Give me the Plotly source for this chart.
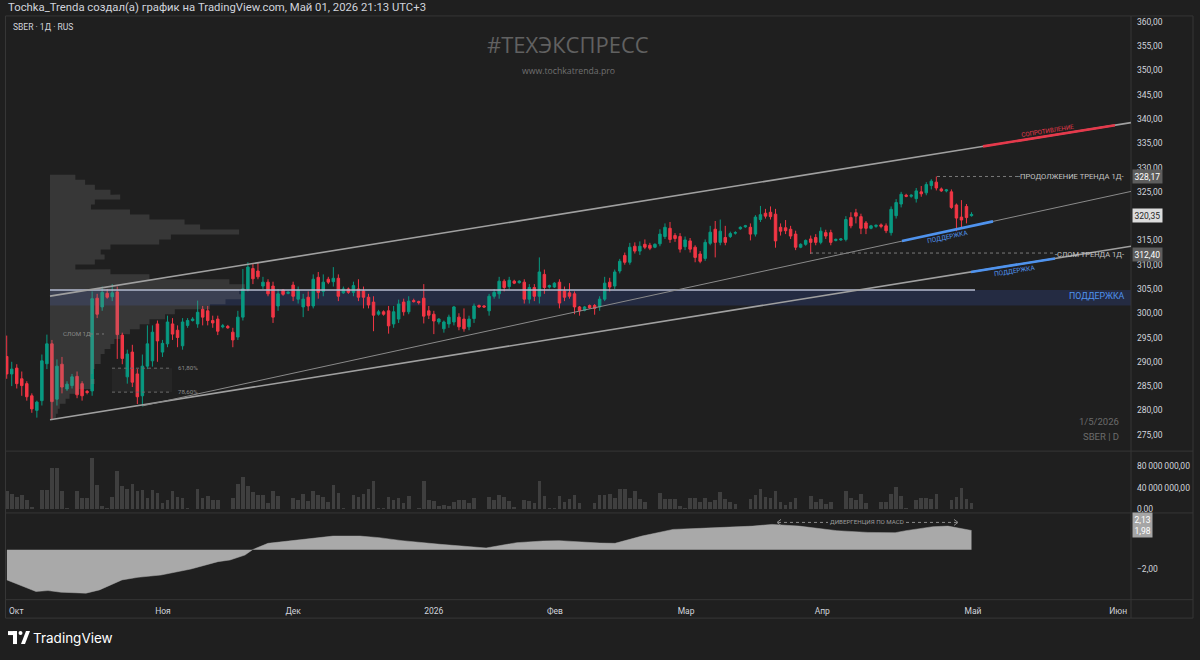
import plotly.graph_objects as go

# ------------------------------------------------------------------ data
month_ticks = [1.9, 31.1, 57.0, 85.0, 109.1, 135.2, 162.3, 192.3, 221.2]
month_labels = ["Окт", "Ноя", "Дек", "2026", "Фев", "Мар", "Апр", "Май", "Июн"]

ohlc = [
    (291.1, 295.4, 286.5, 287.5), (287.5, 290.0, 285.0, 288.5), (288.7, 289.5, 284.5, 285.5),
    (286.5, 288.0, 283.0, 285.1), (285.5, 286.0, 282.0, 282.8), (283.0, 283.5, 279.5, 280.3),
    (280.0, 282.0, 278.5, 281.7), (282.0, 291.5, 281.0, 290.2), (289.6, 295.6, 288.5, 293.7),
    (293.7, 294.5, 278.2, 281.8), (282.3, 290.5, 281.0, 289.1), (289.5, 291.0, 283.5, 284.8),
    (284.4, 286.0, 284.0, 285.4), (285.1, 287.5, 284.5, 286.9), (287.0, 288.0, 282.5, 283.2),
    (285.5, 286.0, 282.0, 283.0), (283.9, 284.2, 283.3, 283.7), (284.0, 304.5, 283.0, 303.0),
    (303.1, 304.0, 299.0, 299.8), (301.3, 305.5, 300.5, 304.3), (304.1, 305.0, 303.0, 303.3),
    (303.4, 306.0, 302.5, 304.2), (304.4, 305.5, 290.6, 295.6), (295.5, 296.0, 289.5, 290.7),
    (286.9, 292.5, 285.5, 291.6), (292.0, 293.5, 284.8, 285.8), (287.5, 288.5, 281.3, 282.8),
    (283.0, 291.5, 280.8, 289.1), (289.1, 297.5, 288.5, 293.7), (290.2, 297.5, 289.0, 296.1),
    (297.8, 298.5, 290.0, 294.3), (292.0, 294.5, 291.0, 293.8), (293.7, 299.5, 293.0, 298.2),
    (297.8, 299.0, 294.5, 295.7), (296.5, 297.5, 293.0, 295.0), (293.3, 299.0, 292.5, 298.2),
    (297.5, 299.0, 297.0, 298.5), (298.5, 299.2, 298.3, 298.8), (297.8, 302.6, 297.0, 300.2),
    (300.8, 301.5, 297.5, 299.2), (300.5, 301.5, 297.5, 298.5), (298.5, 299.5, 297.0, 298.0),
    (298.8, 299.5, 295.5, 296.3), (297.2, 297.8, 296.9, 297.4), (297.3, 297.6, 296.8, 297.0),
    (296.1, 297.0, 293.0, 294.5), (295.1, 300.5, 294.5, 299.2), (299.2, 309.1, 298.5, 305.0),
    (305.0, 310.5, 304.5, 309.5), (309.2, 310.3, 306.0, 307.1), (308.7, 310.5, 307.0, 307.5),
    (305.6, 307.5, 305.0, 306.4), (306.4, 307.0, 303.5, 304.0), (305.6, 306.5, 298.0, 299.2),
    (301.5, 305.0, 300.5, 304.0), (304.8, 305.0, 303.6, 303.9), (304.1, 304.6, 303.9, 304.3),
    (305.8, 306.5, 302.5, 303.5), (302.9, 305.5, 302.0, 304.8), (301.3, 304.0, 299.2, 302.9),
    (303.3, 304.5, 300.5, 301.5), (301.5, 308.0, 301.0, 307.0), (307.4, 308.5, 303.0, 304.3),
    (304.5, 308.0, 303.5, 306.4), (307.0, 307.5, 306.0, 306.4), (306.5, 309.5, 305.5, 307.2),
    (307.2, 308.0, 302.5, 303.5), (304.2, 305.5, 304.0, 305.0), (305.0, 305.3, 304.0, 304.3),
    (304.3, 306.5, 303.5, 305.7), (305.0, 307.0, 302.5, 303.3), (304.6, 305.5, 301.0, 303.3),
    (303.3, 304.0, 301.0, 301.7), (302.3, 303.5, 296.3, 299.6), (299.8, 300.7, 299.5, 300.3),
    (300.3, 300.6, 299.5, 299.8), (300.5, 301.5, 295.8, 297.4), (297.8, 301.5, 297.0, 300.3),
    (298.8, 302.8, 298.0, 301.9), (302.3, 303.0, 299.5, 300.3), (300.3, 303.5, 299.8, 302.5),
    (302.6, 303.0, 302.2, 302.4), (302.4, 302.6, 301.8, 302.2), (303.1, 306.0, 297.9, 299.4),
    (300.5, 301.5, 298.8, 299.6), (299.8, 300.5, 295.7, 298.4), (298.2, 299.0, 297.7, 298.8),
    (296.8, 298.5, 296.0, 298.2), (297.8, 299.7, 297.0, 299.2), (298.2, 301.5, 297.5, 301.3),
    (299.2, 300.0, 296.5, 297.2), (298.8, 301.0, 296.2, 296.8), (297.2, 299.5, 296.5, 298.8),
    (298.9, 302.0, 298.0, 301.5), (301.6, 301.8, 301.1, 301.3), (301.5, 301.7, 301.1, 301.3),
    (300.5, 304.0, 299.5, 303.5), (303.5, 305.0, 303.0, 304.3), (304.0, 307.5, 303.0, 306.6),
    (306.6, 307.0, 304.5, 305.3), (305.5, 307.5, 305.0, 306.8), (306.6, 306.9, 306.0, 306.2),
    (306.3, 306.8, 306.1, 306.6), (306.4, 307.0, 302.0, 302.9), (302.9, 306.0, 302.0, 305.3),
    (305.3, 306.0, 302.5, 303.5), (303.5, 311.5, 302.0, 308.5), (308.0, 309.0, 304.0, 305.3),
    (305.4, 305.9, 305.1, 305.7), (305.4, 306.4, 305.2, 306.2), (306.4, 307.0, 301.0, 302.1),
    (304.6, 305.5, 302.5, 303.3), (304.2, 306.2, 303.0, 303.5), (304.0, 304.5, 299.8, 301.3),
    (301.3, 301.5, 299.5, 300.5), (300.6, 301.5, 300.4, 301.3), (301.6, 301.8, 300.9, 301.1),
    (301.6, 301.9, 299.7, 301.0), (301.3, 303.5, 300.5, 302.9), (302.9, 307.5, 302.5, 306.2),
    (306.4, 307.3, 304.5, 305.4), (305.6, 309.0, 305.0, 308.5), (308.7, 311.2, 308.2, 310.7),
    (311.9, 312.5, 310.0, 310.5), (310.5, 314.5, 310.0, 313.6), (313.8, 314.6, 312.3, 312.8),
    (312.8, 314.8, 312.0, 313.8), (314.2, 315.2, 313.2, 313.6), (314.0, 314.5, 313.0, 313.4),
    (313.6, 314.4, 313.4, 314.2), (314.3, 317.3, 313.8, 316.3), (315.8, 318.5, 315.3, 317.7),
    (317.5, 318.8, 314.5, 315.2), (316.0, 316.5, 314.7, 315.4), (315.8, 316.5, 312.5, 313.2),
    (313.7, 315.8, 313.0, 315.1), (314.9, 315.5, 312.5, 313.2), (313.6, 314.0, 310.5, 311.5),
    (312.2, 312.8, 310.3, 310.7), (311.3, 315.2, 310.8, 314.6), (314.4, 318.0, 314.0, 316.7),
    (317.3, 319.0, 311.5, 314.6), (314.6, 319.3, 314.0, 316.9), (315.6, 318.0, 314.0, 314.6),
    (315.8, 316.8, 315.5, 316.4), (316.5, 316.9, 316.2, 316.6), (317.4, 317.9, 317.2, 317.7),
    (317.8, 318.2, 317.6, 318.0), (317.7, 318.5, 315.0, 316.3), (316.3, 320.2, 315.8, 319.8),
    (319.3, 322.1, 318.8, 320.3), (320.6, 321.5, 319.5, 320.0), (320.8, 322.0, 319.3, 319.9),
    (320.4, 321.5, 313.5, 314.9), (317.7, 318.5, 316.0, 316.9), (317.6, 319.2, 316.3, 317.0),
    (317.3, 318.0, 315.3, 315.9), (316.3, 317.0, 313.0, 313.6), (313.6, 314.4, 313.4, 314.2),
    (314.2, 315.2, 313.9, 315.0), (315.3, 316.0, 312.2, 314.6), (315.6, 316.3, 314.0, 314.6),
    (314.6, 317.7, 314.2, 316.9), (316.6, 317.2, 315.3, 315.9), (316.6, 317.2, 314.0, 314.6),
    (315.0, 315.4, 314.8, 315.2), (315.1, 315.5, 314.9, 315.3), (315.2, 320.0, 314.8, 319.3),
    (319.7, 320.8, 317.5, 318.0), (320.7, 321.5, 318.5, 320.0), (319.9, 320.5, 316.3, 317.5),
    (318.6, 319.0, 316.3, 317.5), (317.5, 318.2, 317.3, 318.0), (317.9, 318.3, 317.6, 318.1),
    (318.2, 318.5, 317.5, 317.9), (318.0, 318.5, 316.5, 317.0), (316.6, 322.0, 316.0, 321.4),
    (320.1, 323.5, 319.5, 322.8), (322.5, 325.0, 321.8, 324.5), (324.3, 324.6, 323.9, 324.1),
    (324.1, 324.5, 323.8, 324.3), (323.6, 325.8, 322.8, 325.2), (325.0, 326.2, 324.0, 324.6),
    (324.8, 327.0, 324.3, 326.5), (326.3, 327.6, 325.5, 327.2), (327.0, 328.17, 325.3, 325.8),
    (325.6, 325.9, 325.0, 325.2), (325.2, 325.6, 324.9, 325.4), (325.0, 325.5, 321.5, 321.8),
    (322.3, 322.6, 316.9, 319.6), (319.8, 323.3, 317.4, 319.2), (322.0, 322.5, 318.5, 319.7),
    (320.1, 320.8, 319.9, 320.35),
]
opens = [r[0] for r in ohlc]
highs = [r[1] for r in ohlc]
lows = [r[2] for r in ohlc]
closes = [r[3] for r in ohlc]
bar_idx = list(range(len(ohlc)))

volume_m = [
    34, 28, 22, 27, 17, 4, 1, 35, 36, 75, 75, 33, 2, 1, 33, 21, 21, 93, 45, 6,
    3, 23, 70, 42, 37, 47, 33, 36, 21, 36, 30, 11, 17, 33, 23, 21, 2, 0.5, 37, 21,
    24, 17, 18, 0.5, 0.5, 21, 46, 59, 42, 32, 26, 27, 12, 34, 25, 1, 1, 20, 18, 28,
    16, 33, 27, 22, 14, 44, 30, 2, 1, 27, 23, 29, 37, 51, 2, 3, 22, 17, 20, 12,
    24, 1, 2, 51, 18, 15, 7, 9, 6, 14, 17, 17, 12, 20, 1, 1, 23, 17, 26, 22,
    16, 4, 1, 18, 15, 11, 52, 24, 2, 2, 25, 14, 19, 27, 11, 1, 1, 11, 27,
    26.1, 29.1, 21.8, 37.0, 37.6, 20.0, 33.9, 18.2, 13.3, 0.5,
    0.5, 30.3, 18.2, 18.2, 19.4, 6.1, 3.0, 20.6, 20.6, 13.3,
    20.6, 13.3, 16.4, 32.7, 18.2, 13.3, 9.7, 0.6, 0.6, 18.2,
    25.5, 38.2, 23.0, 20.0, 33.9, 13.9, 7.9, 13.3, 21.8, 0.6,
    0.6, 24.2, 13.3, 18.2, 9.1, 13.3, 0.6, 0.5, 33.9, 21.8,
    16.4, 28.5, 12.1, 0.6, 0.6, 13.3, 13.3, 27.9, 40.6, 24.2,
    2.4, 0.6, 17.0, 21.8, 21.8, 18.2, 27.3, 0.6, 0.6, 17.0,
    23.0, 40.0, 18.2, 10.9,
]

macd_idx = [0.04, 2.45, 5.83, 8.22, 10.8, 15.78, 18.47, 22.94, 26.13, 30.71, 36.68, 42.05,
            44.44, 47.42, 48.94, 52.0, 58.07, 61.15, 64.94, 70.31, 74.09, 78.67, 86.23,
            95.4, 101.5, 106.7, 109.9, 118.07, 121.06, 126.4, 132.6, 138.0, 143.2, 148.5,
            152.3, 157.7, 165.2, 171.4, 176.8, 178.96, 184.3, 187.3, 192.0]
macd_val = [-3.13, -3.65, -4.33, -4.23, -4.4, -4.5, -4.16, -3.13, -2.86, -2.62, -2.0, -1.24,
            -1.07, -0.56, 0.0, 0.65, 0.99, 1.16, 1.40, 1.40, 1.24, 0.93, 0.55,
            0.17, 0.72, 0.89, 0.93, 0.68, 0.65, 1.40, 2.09, 2.2, 2.3, 2.43,
            2.61, 2.43, 1.96, 1.78, 1.75, 1.96, 2.37, 2.43, 1.98]

# fixed-range volume profile (price level, relative volume 0..100)
vp_price = [328.02, 326.99, 325.97, 324.94, 323.92, 322.89, 321.86, 320.84, 319.81, 318.79,
            317.76, 316.73, 315.71, 314.68, 313.66, 312.63, 311.60, 310.58, 309.55, 308.53,
            307.50, 306.47, 305.45, 304.42, 303.40, 302.37, 301.34, 300.32, 299.29, 298.27,
            297.24, 296.21, 295.19, 294.16, 293.14, 292.11, 291.08, 290.06, 289.03, 288.01,
            286.98, 285.95, 284.93, 283.90, 282.88, 281.85, 280.82, 279.80, 278.77]
vp_volume = [13, 18, 23, 31, 36, 23, 21, 41, 51, 69, 77, 97, 62, 56, 31, 26, 28, 23, 13,
             31, 51, 92, 100, 97, 98, 90, 82, 64, 59, 51, 46, 41, 36, 33, 31, 28, 26, 26,
             23, 22, 21, 23, 21, 15, 10, 8, 5, 4, 3]

price_ticks = [275, 280, 285, 290, 295, 300, 305, 310, 315, 325, 330, 335, 340, 345, 350, 355, 360]

# ------------------------------------------------------------------ geometry helpers
W, H = 1200, 660
BG = "#1f1f1f"
UP, DN = "#089981", "#f23645"
TXT = "#d1d4dc"
FONT = "Roboto"


def fx(px):
    return px / W


def fy(py):
    return 1 - py / H


def ix(px):  # pixel x -> bar index
    return (px - 6.7) / 5.025


def pr(py):  # pixel y -> price
    return 360 - (py - 22) / 4.87


def on_line(p0, p1, x):
    return p0[1] + (x - p0[0]) * (p1[1] - p0[1]) / (p1[0] - p0[0])


fig = go.Figure()

fig.add_trace(go.Candlestick(
    x=bar_idx, open=opens, high=highs, low=lows, close=closes,
    increasing=dict(line=dict(color=UP, width=1), fillcolor=UP),
    decreasing=dict(line=dict(color=DN, width=1), fillcolor=DN),
    whiskerwidth=0, showlegend=False, hoverinfo="skip", xaxis="x", yaxis="y"))

# volume profile drawn as a stepped polygon from the profile levels
vp_base = ix(50)
vp_scale = (245 - 50) / 5.025 / 100.0
half = (vp_price[0] - vp_price[1]) / 2
poly_x = [vp_base]
poly_y = [vp_price[0] + half]
for p, v in zip(vp_price, vp_volume):
    poly_x += [vp_base + v * vp_scale, vp_base + v * vp_scale]
    poly_y += [p + half, p - half]
poly_x.append(vp_base)
poly_y.append(vp_price[-1] - half)
fig.add_trace(go.Scatter(
    x=poly_x, y=poly_y, mode="lines", fill="toself", fillcolor="rgba(135,135,135,0.24)",
    line=dict(width=0), xaxis="x", yaxis="y", showlegend=False, hoverinfo="skip"))

fig.add_trace(go.Bar(
    x=bar_idx, y=[v * 1e6 for v in volume_m], width=0.72,
    marker=dict(color="#3f3f3f", line=dict(width=0)),
    xaxis="x", yaxis="y2", showlegend=False, hoverinfo="skip"))

fig.add_trace(go.Scatter(
    x=macd_idx, y=macd_val, mode="lines", fill="tozeroy", fillcolor="#a9a9a9",
    line=dict(color="#a9a9a9", width=0.5), xaxis="x", yaxis="y3",
    showlegend=False, hoverinfo="skip"))

axis_font = dict(family=FONT, size=8.5, color=TXT)

fig.update_layout(
    width=W, height=H, margin=dict(l=0, r=0, t=0, b=0),
    paper_bgcolor=BG, plot_bgcolor=BG, separators=",\u2009",
    showlegend=False, bargap=0, hovermode=False,
    font=dict(family=FONT, color=TXT),
    xaxis=dict(domain=[fx(6), fx(1131)], range=[ix(6), ix(1131)], anchor="y3",
               showgrid=False, zeroline=False, showline=False,
               tickmode="array", tickvals=month_ticks, ticktext=month_labels,
               tickfont=dict(family=FONT, size=8.5, color=TXT), ticks="",
               ticklabelstandoff=5, rangeslider=dict(visible=False), fixedrange=True),
    yaxis=dict(domain=[fy(452), fy(16)], range=[pr(452), pr(16)], side="right", anchor="x",
               showgrid=False, zeroline=False, showline=False, tickmode="array",
               tickvals=price_ticks, tickformat=".2f", tickfont=axis_font, ticks="",
               ticklabelstandoff=5, fixedrange=True),
    yaxis2=dict(domain=[fy(514), fy(453)], range=[-5.45e6, 105.5e6], side="right", anchor="x",
                showgrid=False, zeroline=False, showline=False, tickmode="array",
                tickvals=[0, 40e6, 80e6], tickformat=",.2f", tickfont=axis_font, ticks="",
                ticklabelstandoff=5, fixedrange=True),
    yaxis3=dict(domain=[fy(601), fy(515)], range=[-5.12, 3.74], side="right", anchor="x",
                showgrid=False, zeroline=False, showline=False, tickmode="array",
                tickvals=[-2], tickformat=".2f", tickfont=axis_font, ticks="",
                ticklabelstandoff=5, fixedrange=True),
)

shapes = []
annos = []
FR = "#363636"

# frame and pane separators
shapes.append(dict(type="rect", xref="paper", yref="paper", x0=fx(5.5), x1=fx(1193), y0=fy(620), y1=fy(16),
                   line=dict(color=FR, width=1), layer="above"))
shapes.append(dict(type="line", xref="paper", yref="paper", x0=fx(1131), x1=fx(1131), y0=fy(620), y1=fy(16),
                   line=dict(color=FR, width=1), layer="above"))
for sy in (452.5, 514.5, 601.5):
    shapes.append(dict(type="line", xref="paper", yref="paper", x0=fx(5), x1=fx(1193), y0=fy(sy), y1=fy(sy),
                       line=dict(color=FR, width=1), layer="above"))

# support band + horizontal level
band_lo, band_hi = pr(306.5), pr(291)
shapes.append(dict(type="rect", xref="x", yref="y", x0=ix(50), x1=ix(1131), y0=band_lo, y1=band_hi,
                   fillcolor="#242b42", line=dict(width=0), layer="below"))
shapes.append(dict(type="line", xref="x", yref="y", x0=ix(50), x1=ix(975), y0=band_hi, y1=band_hi,
                   line=dict(color="#b4bbd0", width=1.5), layer="above"))

# channel lines
upper = ((ix(50), pr(297)), (ix(1131), pr(123)))
lower = ((ix(50), pr(421)), (ix(1131), pr(247)))
middle = ((ix(143), pr(407)), (ix(1131), pr(192)))
for ln, col, wd in ((upper, "#a0a0a0", 1.6), (lower, "#a0a0a0", 1.6), (middle, "#8a8a8a", 1)):
    shapes.append(dict(type="line", xref="x", yref="y", x0=ln[0][0], y0=ln[0][1], x1=ln[1][0], y1=ln[1][1],
                       line=dict(color=col, width=wd), layer="above"))


def seg(line, px0, px1, color):
    a, b = ix(px0), ix(px1)
    shapes.append(dict(type="line", xref="x", yref="y", x0=a, y0=on_line(line[0], line[1], a),
                       x1=b, y1=on_line(line[0], line[1], b),
                       line=dict(color=color, width=2.6), layer="above"))


seg(upper, 983, 1115, "#e5394b")
seg(middle, 902, 993, "#4f93ee")
seg(lower, 971, 1055, "#4f93ee")

# dotted levels
dot = dict(color="#7a7a7a", width=1, dash="dot")
shapes.append(dict(type="line", xref="x", yref="y", x0=ix(937), x1=ix(1019), y0=328.17, y1=328.17, line=dot, layer="above"))
shapes.append(dict(type="line", xref="x", yref="y", x0=ix(810), x1=ix(1055), y0=312.40, y1=312.40, line=dot, layer="above"))
shapes.append(dict(type="line", xref="x", yref="y", x0=ix(90), x1=ix(104), y0=pr(335), y1=pr(335), line=dot, layer="above"))
for fyv in (369.3, 393.3):
    shapes.append(dict(type="line", xref="x", yref="y", x0=ix(112), x1=ix(172), y0=pr(fyv), y1=pr(fyv),
                       line=dict(color="#6a6a6a", width=1, dash="dot"), layer="above"))
shapes.append(dict(type="rect", xref="x", yref="y", x0=ix(112), x1=ix(172), y0=pr(393.3), y1=pr(369.3),
                   fillcolor="rgba(60,60,60,0.25)", line=dict(width=0), layer="below"))

# MACD divergence arrow
dd = dict(color="#8a8a8a", width=1, dash="dot")
shapes.append(dict(type="line", xref="paper", yref="paper", x0=fx(778), x1=fx(828), y0=fy(524), y1=fy(524), line=dd, layer="above"))
shapes.append(dict(type="line", xref="paper", yref="paper", x0=fx(906), x1=fx(957), y0=fy(524), y1=fy(524), line=dd, layer="above"))
shapes.append(dict(type="path", xref="paper", yref="paper",
                   path=f"M {fx(781)},{fy(521)} L {fx(777)},{fy(524)} L {fx(781)},{fy(527)}",
                   line=dict(color="#8a8a8a", width=1), layer="above"))
shapes.append(dict(type="path", xref="paper", yref="paper",
                   path=f"M {fx(954)},{fy(521)} L {fx(958)},{fy(524)} L {fx(954)},{fy(527)}",
                   line=dict(color="#8a8a8a", width=1), layer="above"))

# TradingView logo
shapes.append(dict(type="rect", xref="paper", yref="paper", x0=fx(8), x1=fx(17), y0=fy(637), y1=fy(633),
                   fillcolor="#ffffff", line=dict(width=0)))
shapes.append(dict(type="rect", xref="paper", yref="paper", x0=fx(13), x1=fx(17), y0=fy(646), y1=fy(633),
                   fillcolor="#ffffff", line=dict(width=0)))
shapes.append(dict(type="circle", xref="paper", yref="paper", x0=fx(18.5), x1=fx(22.5), y0=fy(637), y1=fy(633),
                   fillcolor="#ffffff", line=dict(width=0)))
shapes.append(dict(type="path", xref="paper", yref="paper",
                   path=f"M {fx(21)},{fy(646)} L {fx(25)},{fy(646)} L {fx(30)},{fy(633)} L {fx(26)},{fy(633)} Z",
                   fillcolor="#ffffff", line=dict(width=0)))


def text(px, py, s, size, color, xanchor="left", angle=0, family=FONT, **kw):
    annos.append(dict(xref="paper", yref="paper", x=fx(px), y=fy(py), text=s, showarrow=False,
                      xanchor=xanchor, yanchor="middle", textangle=angle,
                      font=dict(family=family, size=size, color=color), **kw))


text(6, 8, "Tochka_Trenda создал(а) график на TradingView.com, Май 01, 2026 21:13 UTC+3", 11.3, TXT)
text(11, 27, "SBER · 1Д · RUS", 8.5, TXT)
text(568, 44, "#ТЕХЭКСПРЕСС", 22, "#616161", xanchor="center", family="Open Sans")
text(568, 71, "www.tochkatrenda.pro", 8.7, "#707070", xanchor="center", family="Open Sans")
text(1121, 423, "1/5/2026", 9.5, "#6b6b6b", xanchor="right")
text(1121, 438, "SBER | D", 9.5, "#6b6b6b", xanchor="right")
text(1126, 177, "-ПРОДОЛЖЕНИЕ ТРЕНДА 1Д-", 7.6, "#c4c4c4", xanchor="right")
text(1126, 255, "-СЛОМ ТРЕНДА 1Д-", 7.5, "#c4c4c4", xanchor="right")
text(1127, 297, "ПОДДЕРЖКА", 8.8, "#4f93ee", xanchor="right")
text(1047, 131, "СОПРОТИВЛЕНИЕ", 6.2, "#e5394b", xanchor="center", angle=-9)
text(948, 238, "ПОДДЕРЖКА", 6.5, "#4f93ee", xanchor="center", angle=-12)
text(1015, 272, "ПОДДЕРЖКА", 6.5, "#4f93ee", xanchor="center", angle=-9)
text(61, 335, "СЛОМ 1Д", 6.2, "#8a8a8a")
text(176, 369, "61,80%", 6.2, "#8a8a8a")
text(176, 393, "78,60%", 6.2, "#8a8a8a")
text(867, 524, "ДИВЕРГЕНЦИЯ ПО MACD", 6.2, "#9a9a9a", xanchor="center")
text(31, 640, "TradingView", 13.5, "#ffffff", family="Inter")


def badge(py, s, bg, fg, size=8.5):
    annos.append(dict(xref="paper", yref="paper", x=fx(1132), y=fy(py), text=s, showarrow=False,
                      xanchor="left", yanchor="middle", bgcolor=bg, borderpad=1.5,
                      font=dict(family=FONT, size=size, color=fg)))


badge(177, "328,17", "#5d5d5d", "#ffffff")
badge(216, "320,35", "#dcdcdc", "#1f1f1f")
badge(255, "312,40", "#5d5d5d", "#ffffff")
badge(527, "2,13<br>1,98", "#a5a5a5", "#ffffff")

fig.update_layout(shapes=shapes, annotations=annos)
fig.write_html("out.html", config={"displayModeBar": False, "staticPlot": True},
               post_script="document.body.style.margin='0';document.body.style.padding='0';"
                           "document.documentElement.style.overflow='hidden';")
